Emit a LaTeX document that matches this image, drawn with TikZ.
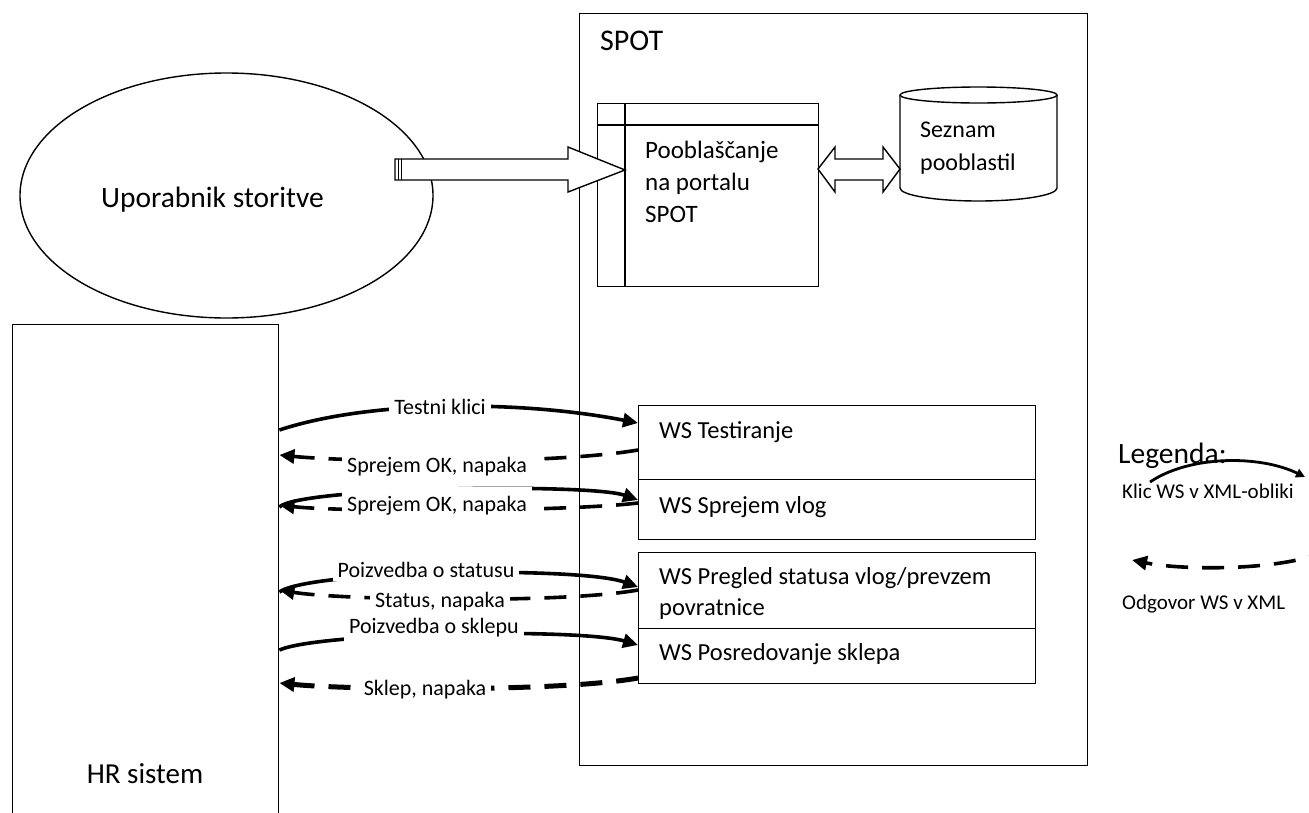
\documentclass[tikz,border=0pt]{standalone}
\usepackage{fontspec}
\setmainfont{Carlito}
\usetikzlibrary{arrows.meta,shapes.geometric}
\begin{document}
\begin{tikzpicture}[x=1pt,y=-1pt,
  box/.style={draw, line width=1.4pt, inner sep=0pt},
  bigtxt/.style={font=\fontsize{29.5}{34}\selectfont, inner sep=0pt},
  mtxt/.style={font=\fontsize{24.5}{32}\selectfont, inner sep=0pt, align=left},
  ptxt/.style={font=\fontsize{25}{32}\selectfont, inner sep=0pt},
  lbl/.style={font=\fontsize{22}{26}\selectfont, fill=white, inner xsep=5pt, inner ysep=4pt},
  legtxt/.style={font=\fontsize{21}{24}\selectfont, inner sep=0pt},
  calltip/.style={-{Triangle[length=15pt,width=14pt]}},
  call/.style={line width=3.6pt, calltip},
  reply/.style={line width=3.6pt, calltip, dash pattern=on 22pt off 14pt},
  replyb/.style={line width=5pt, calltip, dash pattern=on 22pt off 14pt}]
\useasboundingbox (0,0) rectangle (1309,812);
\clip (0,0) rectangle (1309,812);
\fill[white] (0,0) rectangle (1309,812);

% SPOT container
\node[box, minimum width=508pt, minimum height=752pt, anchor=north west] (spot) at (579,13) {};
\node[font=\fontsize{30}{34}\selectfont, inner sep=0pt, anchor=base west] (spotlbl) at (600,50) {SPOT};

% user ellipse
\node[box, ellipse, minimum width=413pt, minimum height=245pt] (user) at (226.5,195.5) {};
\node[bigtxt, anchor=base] (usertxt) at (212.5,207) {Uporabnik storitve};

% HR system
\node[box, minimum width=266pt, minimum height=520pt, anchor=north west] (hr) at (12,324) {};
\node[font=\fontsize{29}{34}\selectfont, inner sep=0pt, anchor=base] (hrtxt) at (145,783) {HR sistem};

% Pooblascanje table
\node[box, minimum width=221pt, minimum height=183pt, anchor=north west] (pob) at (597,103) {};
\draw[line width=1.4pt] (625,103) -- (625,286);
\draw[line width=1.4pt] (597,125) -- (818,125);
\node[ptxt, anchor=base west] (pobt1) at (645,158) {Pooblaščanje};
\node[ptxt, anchor=base west] (pobt2) at (645,190) {na portalu};
\node[ptxt, anchor=base west] (pobt3) at (645,222) {SPOT};

% database cylinder
\draw[line width=1.4pt, fill=white] (900,95) -- (900,188) arc[start angle=180, end angle=0, x radius=78.5, y radius=13] -- (1057,95);
\draw[line width=1.4pt] (978.5,95) ellipse [x radius=78.5, y radius=8];
\node[font=\fontsize{24}{33}\selectfont, inner sep=0pt, anchor=base west] (db1) at (920,137) {Seznam};
\node[font=\fontsize{24}{33}\selectfont, inner sep=0pt, anchor=base west] (db2) at (920,170) {pooblastil};

% block arrow user -> pob
\draw[line width=1.4pt, fill=white] (395,159) -- (568,159) -- (568,147) -- (625,170) -- (568,192) -- (568,180) -- (395,180) -- cycle;
\draw[line width=1.4pt] (398.5,159) -- (398.5,180);
\draw[line width=1.4pt] (401.5,159) -- (401.5,180);

% double arrow pob <-> db
\draw[line width=1.4pt, fill=white] (818,169) -- (835,147) -- (835,159) -- (883,159) -- (883,147) -- (900,169) -- (883,192) -- (883,180) -- (835,180) -- (835,192) -- cycle;

% WS boxes
\node[box, minimum width=397pt, minimum height=74pt, anchor=north west] (ws1) at (638,405) {};
\node[box, minimum width=397pt, minimum height=60pt, anchor=north west] (ws2) at (638,479) {};
\node[box, minimum width=397pt, minimum height=76pt, anchor=north west] (ws3) at (638,552) {};
\node[box, minimum width=397pt, minimum height=55pt, anchor=north west] (ws4) at (638,628) {};
\node[mtxt, anchor=base west] (ws1t) at (659,438) {WS Testiranje};
\node[mtxt, anchor=base west] (ws2t) at (659,513) {WS Sprejem vlog};
\node[mtxt, anchor=base west] (ws3t) at (659,584) {WS Pregled statusa vlog/prevzem};
\node[mtxt, anchor=base west] (ws3u) at (659,615) {povratnice};
\node[mtxt, anchor=base west] (ws4t) at (659,660) {WS Posredovanje sklepa};

% connector end points
\coordinate (h1) at (hr.north east |- 0,430);
\coordinate (h2) at (hr.north east |- 0,455);
\coordinate (h3a) at (hr.north east |- 0,507);
\coordinate (h3b) at (hr.north east |- 0,505);
\coordinate (h4a) at (hr.north east |- 0,592);
\coordinate (h4b) at (hr.north east |- 0,590);
\coordinate (h5) at (hr.north east |- 0,650);
\coordinate (h6) at (hr.north east |- 0,683);
\coordinate (w1) at (ws1.north west |- 0,423);
\coordinate (w2) at (ws1.north west |- 0,450);
\coordinate (w3a) at (ws2.north west |- 0,500);
\coordinate (w3b) at (ws2.north west |- 0,503);
\coordinate (w4a) at (ws3.north west |- 0,587);
\coordinate (w4b) at (ws3.north west |- 0,590);
\coordinate (w5) at (ws4.north west |- 0,645);
\coordinate (w6) at (ws4.north west |- 0,678);

% connectors
\draw[call] (h1) .. controls (370,400) and (520,400) .. (w1);
\draw[reply] (w2) .. controls (550,465) and (350,462) .. (h2);
\draw[call] (h3a) .. controls (300,487) and (590,483) .. (w3a);
\draw[reply] (w3b) .. controls (560,512) and (340,512) .. (h3b);
\draw[call] (h4a) .. controls (310,570) and (580,566) .. (w4a);
\draw[reply] (w4b) .. controls (560,604) and (340,600) .. (h4b);
\draw[call] (h5) .. controls (320,632) and (580,628) .. (w5);
\draw[replyb] (w6) .. controls (560,692) and (350,690) .. (h6);

% labels
\node[lbl, anchor=base] (l1) at (440,414) {Testni klici};
\node[lbl, anchor=base] (l2) at (437,472) {Sprejem OK, napaka};
\node[lbl, anchor=base, inner ysep=9pt] (l3) at (437,511) {Sprejem OK, napaka};
\node[lbl, anchor=base] (l4) at (426,577) {Poizvedba o statusu};
\node[lbl, anchor=base] (l5) at (440,607) {Status, napaka};
\node[lbl, anchor=base] (l6) at (434,633) {Poizvedba o sklepu};
\node[lbl, anchor=base] (l7) at (425,695) {Sklep, napaka};

% legend
\node[bigtxt, anchor=base west] (leg) at (1118,463) {Legenda:};
\coordinate (lg1s) at (1150,482);
\coordinate (lg1e) at (1305,477);
\draw[line width=2.8pt, -{Triangle[length=9pt,width=9pt]}] (lg1s) .. controls (1190,455) and (1260,455) .. (lg1e);
\node[legtxt, anchor=base west] (leg1) at (1122,498) {Klic WS v XML-obliki};
\coordinate (lg2s) at (1330,550);
\coordinate (lg2e) at (1132,560);
\draw[reply] (lg2s) .. controls (1280,572) and (1180,570) .. (lg2e);
\node[legtxt, anchor=base west] (leg2) at (1122,609) {Odgovor WS v XML};
\end{tikzpicture}
\end{document}
